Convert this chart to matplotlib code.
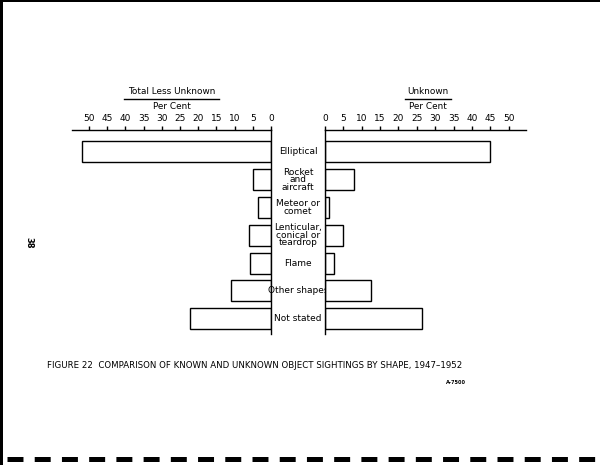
import matplotlib
matplotlib.use("Agg")
import matplotlib.pyplot as plt
from matplotlib.lines import Line2D
from matplotlib.patches import Rectangle
from matplotlib.transforms import blended_transform_factory

# ---- data (per cent) ----
shapes = ["Elliptical", "Rocket\nand\naircraft", "Meteor or\ncomet",
          "Lenticular,\nconical or\nteardrop", "Flame", "Other shapes", "Not stated"]
known_pct = [51.9, 4.9, 3.5, 6.1, 5.8, 11.0, 22.3]      # Total Less Unknown
unknown_pct = [44.8, 7.8, 1.0, 4.9, 2.4, 12.4, 26.5]    # Unknown
tick_vals = [0, 5, 10, 15, 20, 25, 30, 35, 40, 45, 50]
tick_labels = ["0", "5", "10", "15", "20", "25", "30", "35", "40", "45", "50"]

W, H = 600, 465
fig = plt.figure(figsize=(6.0, 4.65), dpi=100)
fig.patch.set_facecolor("white")

FONT = "DejaVu Sans"
plt.rcParams["font.family"] = FONT

def fx(px):
    return px / W

def fy(py):
    return 1 - py / H

top_px, bot_px = 130, 334
axL = fig.add_axes([fx(72), fy(bot_px), fx(271) - fx(72), fy(top_px) - fy(bot_px)])
axR = fig.add_axes([fx(325), fy(bot_px), fx(526) - fx(325), fy(top_px) - fy(bot_px)])

ypos = list(range(len(shapes)))
bar_h = 0.755

for ax, vals, side in ((axL, known_pct, "L"), (axR, unknown_pct, "R")):
    ax.barh(ypos, vals, height=bar_h, color="white", edgecolor="black", linewidth=1.0)
    ax.set_ylim(6.55, -0.79)
    ax.set_yticks([])
    ax.xaxis.tick_top()
    ax.set_xticks(tick_vals)
    ax.set_xticklabels(tick_labels)
    ax.tick_params(axis="x", direction="out", length=3, width=1.0, pad=2,
                   labelsize=6.5, colors="black")
    ax.spines["bottom"].set_visible(False)
    ax.spines["top"].set_linewidth(1.0)
    if side == "L":
        ax.set_xlim(54.7, 0)
        ax.spines["left"].set_visible(False)
        ax.spines["right"].set_linewidth(1.0)
    else:
        ax.set_xlim(0, 54.7)
        ax.spines["right"].set_visible(False)
        ax.spines["left"].set_linewidth(1.0)
    ax.set_facecolor("none")

# category labels in the central column
tr = blended_transform_factory(fig.transFigure, axL.transData)
for y, name in zip(ypos, shapes):
    axL.text(fx(298), y, name, transform=tr, ha="center", va="center",
             fontsize=6.5, linespacing=0.78, clip_on=False)

# headers
def header(cx, title, ul0, ul1):
    fig.text(fx(cx), fy(92), title, ha="center", va="center", fontsize=6.4)
    fig.add_artist(Line2D([fx(ul0), fx(ul1)], [fy(99), fy(99)], color="black", lw=1.0))
    fig.text(fx(cx), fy(106.5), "Per Cent", ha="center", va="center", fontsize=6.4)

header(172, "Total Less Unknown", 124, 219)
header(428, "Unknown", 405, 451)

# caption
fig.text(fx(255), fy(365), "FIGURE 22  COMPARISON OF KNOWN AND UNKNOWN OBJECT SIGHTINGS BY SHAPE, 1947–1952",
         ha="center", va="center", fontsize=6.2)
fig.text(fx(466), fy(383), "A-7500", ha="right", va="center", fontsize=3.6, fontweight="bold")

# page number
fig.text(fx(29), fy(243), "38", ha="center", va="center", rotation=-90, fontsize=6, fontweight="bold")

# page borders
fig.add_artist(Rectangle((0, 0), fx(3), 1, transform=fig.transFigure, color="black", lw=0))
fig.add_artist(Rectangle((0, fy(2.5)), 1, fy(0) - fy(2.5), transform=fig.transFigure, color="black", lw=0))

# bottom dashed strip
plt.rcParams["lines.scale_dashes"] = False
dash = Line2D([fx(7), fx(595)], [fy(459), fy(459)], color="black", lw=3.6,
              dashes=(11.5, 8.1), dash_capstyle="butt")
fig.add_artist(dash)

fig.savefig("out.png", dpi=100, facecolor="white")
